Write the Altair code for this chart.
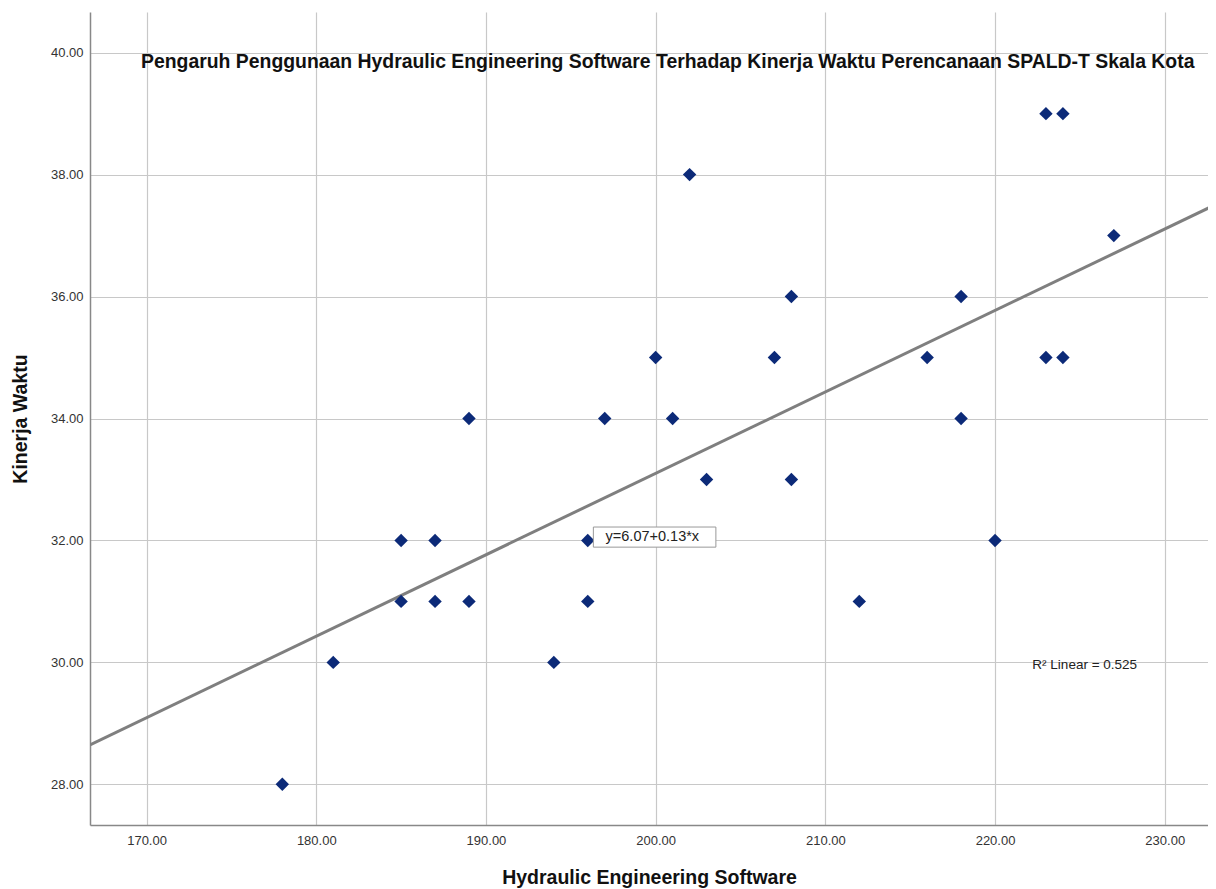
import altair as alt
import pandas as pd

# Data (Hydraulic Engineering Software vs Kinerja Waktu)
software = [178, 181, 185, 185, 187, 187, 189, 189, 194, 196, 196, 197, 200, 201, 202,
            203, 207, 208, 208, 212, 216, 218, 218, 220, 223, 224, 223, 224, 227]
kinerja = [28, 30, 32, 31, 32, 31, 34, 31, 30, 32, 31, 34, 35, 34, 38,
           33, 35, 36, 33, 31, 35, 36, 34, 32, 39, 39, 35, 35, 37]

x_ticks = [170, 180, 190, 200, 210, 220, 230]
y_ticks = [28, 30, 32, 34, 36, 38, 40]

title_text = ("Pengaruh Penggunaan Hydraulic Engineering Software Terhadap "
              "Kinerja Waktu Perencanaan SPALD-T Skala Kota")
equation_text = "y=6.07+0.13*x"
r2_text = "R\u00b2 Linear = 0.525"

df = pd.DataFrame({"x": software, "y": kinerja})

FONT = "Liberation Sans"
x_domain = [166.667, 232.55]
y_domain = [27.333, 40.667]

xs = alt.Scale(domain=x_domain, nice=False, zero=False)
ys = alt.Scale(domain=y_domain, nice=False, zero=False)

x_axis = alt.Axis(values=x_ticks, format=".2f", title="Hydraulic Engineering Software",
                  grid=True, ticks=False, labelPadding=9, titlePadding=21,
                  labelFont=FONT, labelFontSize=13, labelColor="#333333",
                  titleFont=FONT, titleFontSize=19.5, titleFontWeight="bold",
                  titleColor="#111111", domainColor="#888888", domainWidth=1.5,
                  gridColor="#c8c8c8", gridWidth=1.2, labelFlush=False)
y_axis = alt.Axis(values=y_ticks, format=".2f", title="Kinerja Waktu",
                  grid=True, ticks=False, labelPadding=7, titlePadding=20,
                  labelFont=FONT, labelFontSize=13, labelColor="#333333",
                  titleFont=FONT, titleFontSize=19.5, titleFontWeight="bold",
                  titleColor="#111111", domainColor="#888888", domainWidth=1.5,
                  gridColor="#c8c8c8", gridWidth=1.2, labelFlush=False)

base = alt.Chart(df)

points = base.mark_point(shape="diamond", filled=True, size=180, opacity=1,
                         color="#0c2a78").encode(
    x=alt.X("x:Q", scale=xs, axis=x_axis),
    y=alt.Y("y:Q", scale=ys, axis=y_axis),
)

fit = base.transform_regression("x", "y", extent=[166.667, 233.333]).mark_line(
    color="#7f7f7f", strokeWidth=3, clip=True).encode(
    x=alt.X("x:Q", scale=xs),
    y=alt.Y("y:Q", scale=ys),
)

eq_box = alt.Chart(pd.DataFrame({"t": [equation_text]})).mark_rect(
    fill="white", stroke="#999999", strokeWidth=1).encode(
    x=alt.datum(196.33, scale=xs), x2=alt.datum(203.55),
    y=alt.datum(32.22, scale=ys), y2=alt.datum(31.89),
)

eq_label = alt.Chart(pd.DataFrame({"t": [equation_text]})).mark_text(
    align="left", baseline="middle", font=FONT, fontSize=14.5, color="#222222").encode(
    x=alt.datum(197.05, scale=xs), y=alt.datum(32.05, scale=ys), text="t:N",
)

r2_label = alt.Chart(pd.DataFrame({"t": [r2_text]})).mark_text(
    align="left", baseline="middle", font=FONT, fontSize=13.5, color="#222222").encode(
    x=alt.datum(222.2, scale=xs), y=alt.datum(29.96, scale=ys), text="t:N",
)

chart = alt.layer(fit, points, eq_box, eq_label, r2_label).properties(
    width=1118, height=813,
    background="white",
    title=alt.TitleParams(title_text, anchor="start", frame="group", orient="top",
                          offset=0, dx=51, dy=75, baseline="alphabetic",
                          font=FONT, fontSize=19.4, fontWeight="bold", color="#111111"),
    autosize=alt.AutoSizeParams(type="none"),
    padding={"left": 82, "top": 4, "right": 0, "bottom": 64},
).configure_view(strokeWidth=0, stroke=None)

chart.save("out.html", embed_options={"renderer": "svg", "actions": False})
